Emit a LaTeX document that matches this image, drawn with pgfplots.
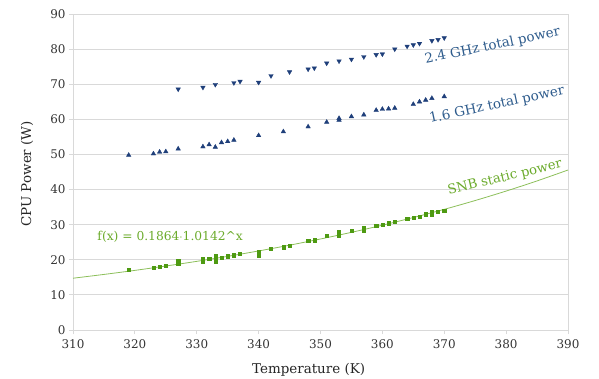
\documentclass[border=0pt]{standalone}
\usepackage{pgfplots}
\pgfplotsset{compat=1.18}
\usepackage{fontspec}
\setmainfont{DejaVu Serif}
\definecolor{navy}{HTML}{1F3F7A}
\definecolor{bluetxt}{HTML}{2D5B8C}
\definecolor{grn}{HTML}{4E9A12}
\definecolor{grntxt}{HTML}{6AAA2A}
\definecolor{trend}{HTML}{8CBF5A}
\definecolor{gridc}{HTML}{D9D9D9}
\begin{document}
\begin{tikzpicture}[x=1bp,y=1bp]
\begin{axis}[
  at={(0,0)}, anchor=south west,
  scale only axis, width=495bp, height=316bp,
  xmin=310, xmax=390, ymin=0, ymax=90,
  xtick={310,320,...,390}, ytick={0,10,...,90},
  ymajorgrids, grid style={gridc, line width=0.8pt},
  axis line style={gridc, line width=0.8pt},
  tick style={gridc, line width=0.8pt},
  tick align=outside, major tick length=4bp,
  xtick pos=bottom, ytick pos=left,
  /pgf/number format/assume math mode=true,
  /pgf/number format/1000 sep={},
  ticklabel style={font=\fontsize{12}{14}\selectfont, text=black!80},
  xticklabel style={yshift=-2bp},
  xlabel={Temperature (K)}, ylabel={CPU Power (W)},
  label style={font=\fontsize{13.5}{15}\selectfont, text=black!85},
  xlabel style={at={(axis description cs:0.476,-0.127)}, anchor=center},
  ylabel style={at={(axis description cs:-0.093,0.494)}, anchor=center},
  clip=false,
]
% trend line f(x)=0.1864*1.0142^x
\addplot[trend, line width=0.8pt, smooth] coordinates {
(310,14.748)(315,15.825)(320,16.981)(325,18.222)(330,19.553)(335,20.981)(340,22.514)(345,24.158)(350,25.923)(355,27.817)(360,29.848)(365,32.029)(370,34.368)(375,36.878)(380,39.572)(385,42.463)(390,45.564)};
% 2.4 GHz total power
\addplot[only marks, mark=triangle*, mark options={rotate=180, fill=navy, draw=navy}, mark size=2.6pt] coordinates {
(327,68.6)(331,69.1)(333,69.9)(336,70.4)(337,70.8)(340,70.5)(342,72.4)(345,73.5)
(348,74.3)(349,74.6)(351,76.0)(353,76.6)(355,77.1)(357,77.8)(359,78.4)(360,78.6)
(362,80.0)(364,80.8)(365,81.2)(366,81.6)(368,82.4)(369,82.7)(370,83.2)};
% 1.6 GHz total power
\addplot[only marks, mark=triangle*, mark options={fill=navy, draw=navy}, mark size=2.6pt] coordinates {
(319,49.8)(323,50.2)(324,50.7)(325,50.8)(327,51.6)(331,52.2)(332,52.8)(333,52.1)
(334,53.4)(335,53.7)(336,54.1)(340,55.4)(344,56.5)(348,57.9)(351,59.2)(353,59.8)(353,60.3)
(355,60.8)(357,61.3)(359,62.6)(360,62.9)(361,63.0)(362,63.2)(365,64.3)(366,65.0)(367,65.5)(368,66.0)(370,66.5)};
% SNB static power
\addplot[only marks, mark=square*, mark options={fill=grn, draw=grn}, mark size=1.6pt] coordinates {
(319,17.1)(323,17.7)(324,18.0)(325,18.2)(327,18.8)(327,19.6)(331,19.5)(331,20.2)(332,20.2)
(333,19.6)(333,20.5)(333,21.1)(334,20.7)(335,21.0)(336,21.3)(337,21.8)(340,21.3)(340,22.3)
(342,23.1)(344,23.6)(345,24.1)(348,25.4)(349,25.6)(351,26.8)(353,27.0)(353,28.0)(355,28.2)
(357,28.4)(357,29.2)(359,29.6)(360,30.0)(361,30.4)(362,30.9)(364,31.6)(365,31.9)(366,32.3)
(367,33.0)(368,33.0)(368,33.7)(369,33.6)(370,34.0)};
\node[text=bluetxt, rotate=11.7, font=\fontsize{13.5}{15}\selectfont] at (axis cs:377.8,80.9) {2.4 GHz total power};
\node[text=bluetxt, rotate=12, font=\fontsize{13.5}{15}\selectfont] at (axis cs:378.5,64.1) {1.6 GHz total power};
\node[text=grntxt, rotate=13.4, font=\fontsize{13.2}{15}\selectfont] at (axis cs:379.8,43.4) {SNB static power};
\node[text=grntxt, font=\fontsize{12.3}{14}\selectfont] at (axis cs:325.7,26.5) {f(x) = 0.1864$\cdot$1.0142\^{}x};
\end{axis}
\pgfresetboundingbox
\path (-73bp,-49bp) rectangle (526bp,330bp);
\end{tikzpicture}
\end{document}
